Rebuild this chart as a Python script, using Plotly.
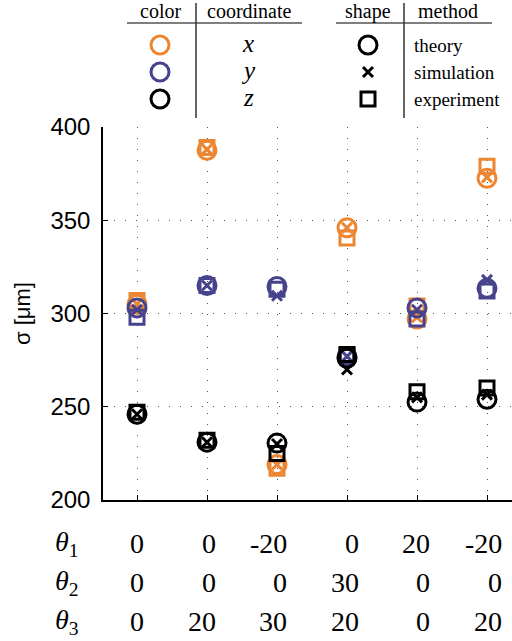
import plotly.graph_objects as go

W, H = 512, 641

# Configurations (rotation angles in degrees)
theta1 = ["0", "0", "-20", "0", "20", "-20"]
theta2 = ["0", "0", "0", "30", "0", "0"]
theta3 = ["0", "20", "30", "20", "0", "20"]
config_idx = [0, 1, 2, 3, 4, 5]

# Beam size sigma [um] per coordinate and method
x_theory = [305, 387.5, 219, 346, 297, 372.5]
x_sim = [305, 388, 219, 346, 298, 373]
x_exp = [307, 389, 217, 340.5, 304, 379]
y_theory = [303, 315, 314.5, 277, 303, 313.5]
y_sim = [302, 315, 309.5, 277, 302, 318]
y_exp = [298, 315, 313, 277.5, 297, 312]
z_theory = [246, 231, 230.5, 276, 252.5, 254]
z_sim = [246, 231, 230, 270, 255, 256.5]
z_exp = [247, 232, 225, 278, 258, 260]

coord_names = ["x", "y", "z"]
coord_colors = ["#EC8633", "#46438C", "#000000"]
method_names = ["theory", "simulation", "experiment"]
method_symbols = ["circle-open", "x-thin-open", "square-open"]
method_sizes = [18, 10, 14]

series = {
    "x": [x_theory, x_sim, x_exp],
    "y": [y_theory, y_sim, y_exp],
    "z": [z_theory, z_sim, z_exp],
}

fig = go.Figure()

for cname, color in zip(coord_names, coord_colors):
    for vals, mname, sym, sz in zip(series[cname], method_names, method_symbols, method_sizes):
        fig.add_trace(go.Scatter(
            x=config_idx, y=vals, mode="markers",
            name=f"{cname} {mname}",
            marker=dict(symbol=sym, size=sz, color=color,
                        line=dict(width=3, color=color)),
            xaxis="x", yaxis="y", showlegend=False, cliponaxis=False,
        ))

# Key table drawn on a pixel-unit overlay axis at the top
key_rows = [45, 72, 99]
for color, yk in zip(coord_colors, key_rows):
    fig.add_trace(go.Scatter(
        x=[160], y=[yk], mode="markers", xaxis="x2", yaxis="y2", showlegend=False,
        marker=dict(symbol="circle-open", size=18, color=color, line=dict(width=3, color=color)),
    ))
for sym, sz, yk in zip(method_symbols, method_sizes, key_rows):
    fig.add_trace(go.Scatter(
        x=[368], y=[yk], mode="markers", xaxis="x2", yaxis="y2", showlegend=False,
        marker=dict(symbol=sym, size=sz, color="#000", line=dict(width=3, color="#000")),
    ))

serif = "Liberation Serif"
sans = "Liberation Sans"
ann = []

def key_text(text, x, y, size=20, xanchor="center", italic=False):
    ann.append(dict(
        text=f"<i>{text}</i>" if italic else text, x=x, y=y, xref="x2", yref="y2",
        xanchor=xanchor, yanchor="middle", showarrow=False,
        font=dict(family=serif, size=size, color="#000"),
    ))

key_text("color", 160, 11)
key_text("coordinate", 249, 11)
key_text("shape", 368, 11)
key_text("method", 448, 11)
for cname, yk in zip(coord_names, key_rows):
    key_text(cname, 248, yk - 2, size=25, italic=True)
for mname, yk in zip(method_names, key_rows):
    key_text(mname, 412, yk, size=19, xanchor="left")

shapes = [
    dict(type="line", xref="x2", yref="y2", x0=127, x1=302, y0=23, y1=23, line=dict(color="#000", width=1.2)),
    dict(type="line", xref="x2", yref="y2", x0=336, x1=492, y0=23, y1=23, line=dict(color="#000", width=1.2)),
    dict(type="line", xref="x2", yref="y2", x0=196, x1=196, y0=3, y1=118, line=dict(color="#333", width=1.5)),
    dict(type="line", xref="x2", yref="y2", x0=404, x1=404, y0=3, y1=118, line=dict(color="#333", width=1.5)),
]

# Angle table below the axis
row_py = [543, 582, 621]
for k, (row, py) in enumerate(zip([theta1, theta2, theta3], row_py)):
    ann.append(dict(
        text=f"<i>θ</i><sub>{k + 1}</sub>", x=67 / W, y=1 - py / H, xref="paper", yref="paper",
        xanchor="center", yanchor="middle", showarrow=False,
        font=dict(family=serif, size=28, color="#000"),
    ))
    for i, lab in zip(config_idx, row):
        ann.append(dict(
            text=lab, x=i, y=1 - py / H, xref="x", yref="paper",
            xanchor="right", yanchor="middle", xshift=9 + 1.6 * i, showarrow=False,
            font=dict(family=serif, size=28, color="#000"),
        ))

# Y-axis title
ann.append(dict(
    text="σ [μm]", x=22 / W, y=1 - 314 / H, xref="paper", yref="paper",
    xanchor="center", yanchor="middle", textangle=-90, showarrow=False,
    font=dict(family=sans, size=22, color="#000"),
))

grid_dash = "1px,10px"
x0_px, x_step = 137, 70
left_px = 103

fig.update_layout(
    width=W, height=H,
    margin=dict(l=0, r=0, t=0, b=0, autoexpand=False),
    paper_bgcolor="white", plot_bgcolor="white",
    showlegend=False,
    xaxis=dict(
        domain=[left_px / W, 1],
        range=[(left_px - x0_px) / x_step, (W - x0_px) / x_step],
        tickmode="array", tickvals=config_idx, showticklabels=False,
        ticks="inside", ticklen=5, tickwidth=1.2, tickcolor="#000",
        showgrid=True, gridcolor="#555", gridwidth=1, griddash=grid_dash,
        showline=True, linecolor="#000", linewidth=1.5,
        zeroline=False, anchor="y", automargin=False,
    ),
    yaxis=dict(
        domain=[1 - 500 / H, 1 - 127 / H],
        range=[200, 400],
        tickmode="array", tickvals=[200, 250, 300, 350, 400],
        ticks="inside", ticklen=5, tickwidth=1.2, tickcolor="#000",
        tickfont=dict(family=sans, size=24, color="#000"),
        ticklabelstandoff=6,
        showgrid=True, gridcolor="#555", gridwidth=1, griddash=grid_dash,
        showline=True, linecolor="#000", linewidth=1.5,
        zeroline=False, anchor="x", automargin=False,
    ),
    xaxis2=dict(domain=[0, 1], range=[0, W], visible=False, anchor="y2", fixedrange=True, automargin=False),
    yaxis2=dict(domain=[1 - 125 / H, 1], range=[125, 0], visible=False, anchor="x2", fixedrange=True, automargin=False),
    annotations=ann,
    shapes=shapes,
)

fig.write_html("out.html")
